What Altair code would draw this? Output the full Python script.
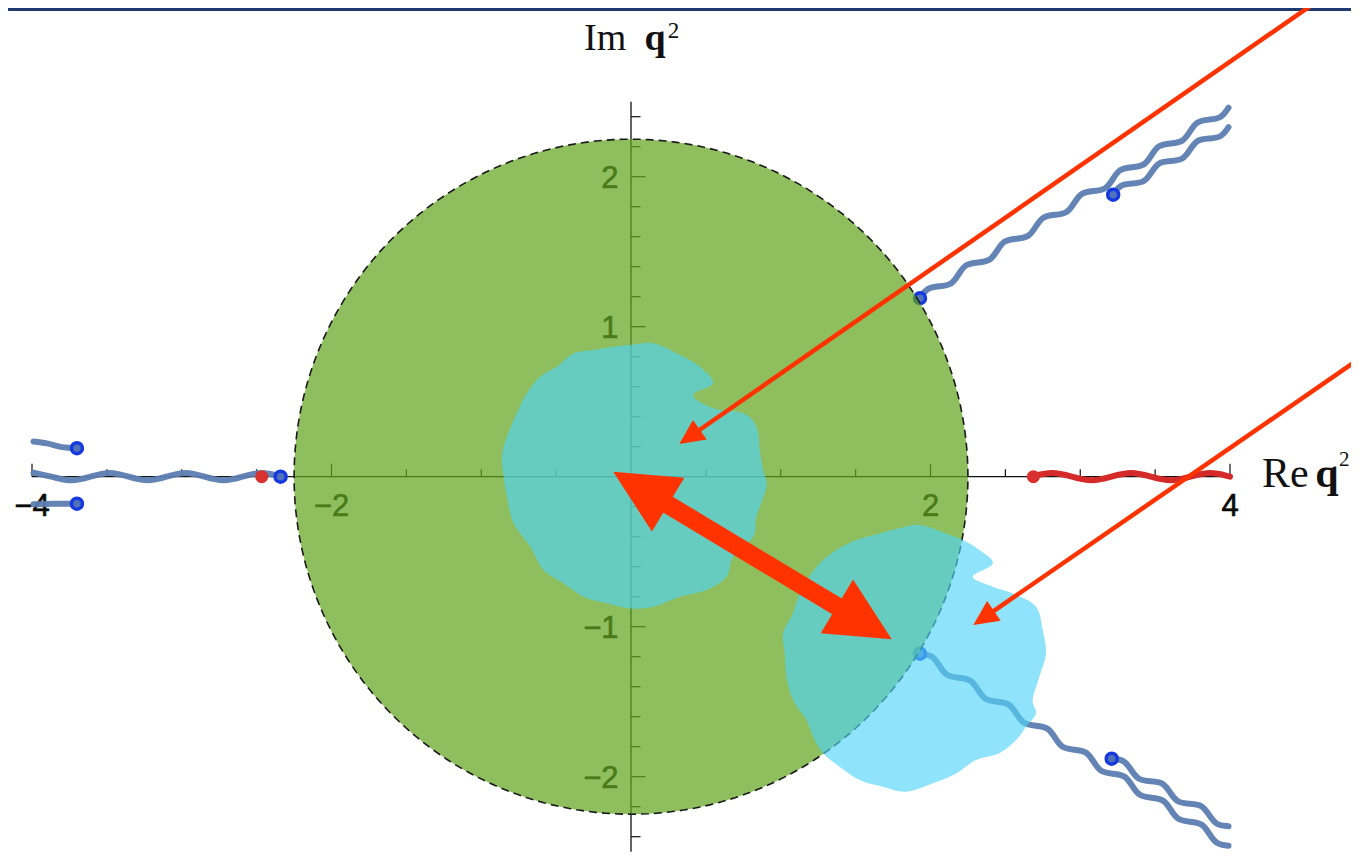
import math
import numpy as np
import pandas as pd
import altair as alt

# ---------------- geometry of the page (pixels per data unit) ----------------
PX = 149.75
PY = 150.0
XDOM = [-4.1603, 4.8080]
YDOM = [-2.5087, 3.1047]

# ---------------- axes ----------------
X_TICKS = [-4, -3.5, -3, -2.5, -2, -1.5, -1, -0.5, 0.5, 1, 1.5, 2, 2.5, 3, 3.5, 4]
X_MAJOR = [-4, -2, 2, 4]
X_LABELS = ["\u22124", "\u22122", "2", "4"]
Y_TICKS = [-2.4, -2.2, -2.0, -1.8, -1.6, -1.4, -1.2, -1.0, -0.8, -0.6, -0.4, -0.2,
           0.2, 0.4, 0.6, 0.8, 1.0, 1.2, 1.4, 1.6, 1.8, 2.0, 2.2, 2.4]
Y_MAJOR = [-2, -1, 1, 2]
Y_LABELS = ["\u22122", "\u22121", "1", "2"]
X_RANGE = [-4, 4]
Y_RANGE = [-2.5, 2.5]

# ---------------- disc ----------------
DISC_R = 2.25

# ---------------- blobs (outline) ----------------
BLOB1_X = [-0.007, 0.149, 0.327, 0.46, 0.549, 0.415, 0.549, 0.749, 0.838, 0.86, 0.882, 0.905,
           0.838, 0.816, 0.682, 0.638, 0.505, 0.327, 0.149, -0.007, -0.162, -0.318, -0.451,
           -0.584, -0.673, -0.784, -0.829, -0.851, -0.862, -0.829, -0.762, -0.696, -0.607,
           -0.496, -0.384, -0.251, -0.118]
BLOB1_Y = [0.878, 0.889, 0.811, 0.733, 0.623, 0.545, 0.456, 0.423, 0.333, 0.178, 0.045, -0.067,
           -0.267, -0.4, -0.533, -0.667, -0.755, -0.8, -0.867, -0.878, -0.844, -0.8, -0.711,
           -0.622, -0.467, -0.311, -0.133, 0.0, 0.133, 0.267, 0.423, 0.556, 0.667, 0.733,
           0.822, 0.845, 0.867]
BLOB2_X = [1.927, 2.104, 2.216, 2.327, 2.416, 2.282, 2.416, 2.549, 2.704, 2.749, 2.771, 2.727,
           2.682, 2.704, 2.638, 2.571, 2.46, 2.304, 2.171, 2.016, 1.838, 1.682, 1.527, 1.393,
           1.282, 1.216, 1.171, 1.082, 1.038, 1.027, 1.016, 1.082, 1.127, 1.238, 1.371, 1.504,
           1.66, 1.793]
BLOB2_Y = [-0.322, -0.378, -0.422, -0.489, -0.578, -0.667, -0.733, -0.778, -0.867, -1.022,
           -1.178, -1.333, -1.489, -1.578, -1.667, -1.756, -1.844, -1.889, -1.978, -2.044,
           -2.1, -2.067, -2.022, -1.933, -1.844, -1.733, -1.622, -1.489, -1.333, -1.178,
           -1.044, -0.911, -0.778, -0.6, -0.489, -0.422, -0.378, -0.344]

# ---------------- wavy cuts: endpoints and wiggle offsets (px) ----------------
WAVE = [0, 5.5, 0, -5.5]
CUT_LEFT = ((-2.34, 0.0), (-3.99, 0.0), [0, -5.5, 0, 5.5, 0, -5.5, 0, 5.5, 0, -5.5, 0, 5.5, 0, -4])
CUT_POS = ((2.68, 0.0), (4.0, 0.0), [0, 5.5, 0, -5.5, 0, 5.5, 0, -5.5, 0, 5.5, 0])
CUT_UR_MAIN = ((1.93, 1.19), (3.99, 2.46), WAVE * 8 + [0])
CUT_UR_SIDE = ((3.22, 1.88), (3.99, 2.33), WAVE * 3 + [0])
CUT_LR_MAIN = ((1.93, -1.18), (3.99, -2.46), WAVE * 8 + [0])
CUT_LR_SIDE = ((3.21, -1.88), (3.99, -2.33), WAVE * 3 + [0])
STUB_UP_X = [-3.99, -3.90, -3.80, -3.70]
STUB_UP_Y = [0.235, 0.222, 0.197, 0.19]
STUB_DN_X = [-3.99, -3.85, -3.70]
STUB_DN_Y = [-0.183, -0.181, -0.18]

BLUE_DOT_X = [-2.34, -3.70, -3.70, 1.93, 3.22, 1.93, 3.21]
BLUE_DOT_Y = [0.0, 0.19, -0.18, 1.19, 1.88, -1.18, -1.88]
RED_DOT_X = [-2.466, 2.687]
RED_DOT_Y = [0.0, 0.0]

# ---------------- arrows ----------------
THIN_TAIL_X = [4.594, 4.861]
THIN_TAIL_Y = [3.178, 0.784]
THIN_TIP_X = [0.3225, 2.286]
THIN_TIP_Y = [0.218, -0.989]
THICK_TIP_X = [-0.1185, 1.741]
THICK_TIP_Y = [0.0333, -1.084]

# ---------------- colours ----------------
NAVY = "#1F3A6E"
GREEN = "#63A51F"
CYAN = "#51D3F7"
CUT_BLUE = "#5B7DB0"
CUT_RED_COLOR = "#D42A2A"
ARROW = "#FF3300"

xs = alt.Scale(domain=XDOM, nice=False, zero=False)
ys = alt.Scale(domain=YDOM, nice=False, zero=False)
X = alt.X("x:Q", scale=xs, axis=None)
Y = alt.Y("y:Q", scale=ys, axis=None)


def poly_df(xv, yv):
    return pd.DataFrame({"x": list(xv), "y": list(yv), "i": list(range(len(xv)))})


def wavy(cut):
    (x0, y0), (x1, y1), offs = cut
    dxp, dyp = (x1 - x0) * PX, (y1 - y0) * PY
    L = math.hypot(dxp, dyp)
    nx, ny = -dyp / L, dxp / L
    n = len(offs)
    rows = []
    for k, o in enumerate(offs):
        t = k / (n - 1)
        rows.append({"x": x0 + t * (x1 - x0) + o * nx / PX,
                     "y": y0 + t * (y1 - y0) + o * ny / PY, "i": k})
    return pd.DataFrame(rows)


def line_layer(df, **kw):
    return alt.Chart(df).mark_line(**kw).encode(x=X, y=Y, order=alt.Order("i:Q"))


layers = []

# axes lines
axes_df = pd.DataFrame({"x": [X_RANGE[0], 0], "x2": [X_RANGE[1], 0],
                        "y": [0, Y_RANGE[0]], "y2": [0, Y_RANGE[1]]})
layers.append(alt.Chart(axes_df).mark_rule(color="#111111", strokeWidth=1.3).encode(
    x=X, y=Y, x2="x2:Q", y2="y2:Q"))

tick_rows = []
for v in X_TICKS:
    L = 13.0 if v in X_MAJOR else 7.5
    tick_rows.append({"x": v, "x2": v, "y": 0.0, "y2": L / PY})
for v in Y_TICKS:
    L = 14.5 if v in Y_MAJOR else 9.5
    tick_rows.append({"x": 0.0, "x2": L / PX, "y": v, "y2": v})
layers.append(alt.Chart(pd.DataFrame(tick_rows)).mark_rule(color="#111111", strokeWidth=1.2).encode(
    x=X, y=Y, x2="x2:Q", y2="y2:Q"))

xl_df = pd.DataFrame({"x": X_MAJOR, "y": [-0.265] * len(X_MAJOR), "t": X_LABELS})
layers.append(alt.Chart(xl_df).mark_text(align="center", baseline="alphabetic",
                                          font="Liberation Sans", fontSize=31, color="#0a0a0a",
                                          stroke="#0a0a0a", strokeWidth=0.6).encode(
    x=X, y=Y, text="t:N"))
yl_df = pd.DataFrame({"x": [-0.083] * len(Y_MAJOR), "y": [v - 0.078 for v in Y_MAJOR], "t": Y_LABELS})
layers.append(alt.Chart(yl_df).mark_text(align="right", baseline="alphabetic",
                                          font="Liberation Sans", fontSize=31, color="#0a0a0a",
                                          stroke="#0a0a0a", strokeWidth=0.6).encode(
    x=X, y=Y, text="t:N"))

# wavy cuts
for cut in [CUT_LEFT, CUT_UR_MAIN, CUT_UR_SIDE, CUT_LR_MAIN, CUT_LR_SIDE]:
    layers.append(line_layer(wavy(cut), color=CUT_BLUE, strokeWidth=6, interpolate="basis",
                             strokeCap="round", opacity=0.95))
for sx, sy in [(STUB_UP_X, STUB_UP_Y), (STUB_DN_X, STUB_DN_Y)]:
    layers.append(line_layer(poly_df(sx, sy), color=CUT_BLUE, strokeWidth=6, interpolate="monotone",
                             strokeCap="round", opacity=0.95))
layers.append(line_layer(wavy(CUT_POS), color=CUT_RED_COLOR, strokeWidth=6, interpolate="basis",
                         strokeCap="round"))

layers.append(alt.Chart(poly_df(RED_DOT_X, RED_DOT_Y)).mark_point(
    shape="circle", filled=True, size=170, color="#D93030", opacity=1).encode(x=X, y=Y))
layers.append(alt.Chart(poly_df(BLUE_DOT_X, BLUE_DOT_Y)).mark_point(
    shape="circle", filled=True, size=120, fill="#4F72B8", stroke="#1538E0", strokeWidth=3.5,
    opacity=1).encode(x=X, y=Y))

# green disc
theta = np.linspace(0, 2 * np.pi, 241)
disc_df = poly_df(DISC_R * np.cos(theta), DISC_R * np.sin(theta))
layers.append(line_layer(disc_df, filled=True, fill=GREEN, fillOpacity=0.72, strokeWidth=0))
layers.append(line_layer(disc_df, color="#1a1a1a", strokeWidth=1.6, strokeDash=[8, 5]))

# blobs
for bx, by in [(BLOB1_X, BLOB1_Y), (BLOB2_X, BLOB2_Y)]:
    layers.append(line_layer(poly_df(bx, by), filled=True, fill=CYAN, fillOpacity=0.643,
                             strokeWidth=0, interpolate="cardinal-closed"))


# arrows
def unit(x0, y0, x1, y1):
    dx, dy = (x1 - x0) * PX, (y1 - y0) * PY
    L = math.hypot(dx, dy)
    return dx / L, dy / L


def head_rows(tipx, tipy, ux, uy, L):
    ang = math.degrees(math.atan2(ux, uy)) % 360
    return {"x": tipx - (L / 2) * ux / PX, "y": tipy - (L / 2) * uy / PY, "a": ang}


thin_shafts, thin_heads = [], []
THIN_L = 25.0
for k in range(len(THIN_TIP_X)):
    ux, uy = unit(THIN_TAIL_X[k], THIN_TAIL_Y[k], THIN_TIP_X[k], THIN_TIP_Y[k])
    thin_shafts.append({"x": THIN_TAIL_X[k], "y": THIN_TAIL_Y[k],
                        "x2": THIN_TIP_X[k] - (THIN_L - 4) * ux / PX,
                        "y2": THIN_TIP_Y[k] - (THIN_L - 4) * uy / PY})
    thin_heads.append(head_rows(THIN_TIP_X[k], THIN_TIP_Y[k], ux, uy, THIN_L))

THICK_L = 64.0
ax, ay, bx_, by_ = THICK_TIP_X[0], THICK_TIP_Y[0], THICK_TIP_X[1], THICK_TIP_Y[1]
ux, uy = unit(ax, ay, bx_, by_)
thick_shaft = [{"x": ax + (THICK_L - 6) * ux / PX, "y": ay + (THICK_L - 6) * uy / PY,
                "x2": bx_ - (THICK_L - 6) * ux / PX, "y2": by_ - (THICK_L - 6) * uy / PY}]
thick_heads = [head_rows(bx_, by_, ux, uy, THICK_L), head_rows(ax, ay, -ux, -uy, THICK_L)]

layers.append(alt.Chart(pd.DataFrame(thin_shafts)).mark_rule(color=ARROW, strokeWidth=4.5).encode(
    x=X, y=Y, x2="x2:Q", y2="y2:Q"))
layers.append(alt.Chart(pd.DataFrame(thick_shaft)).mark_rule(color=ARROW, strokeWidth=18.5).encode(
    x=X, y=Y, x2="x2:Q", y2="y2:Q"))
layers.append(alt.Chart(pd.DataFrame(thin_heads)).mark_point(
    shape="M0,-1L0.96,1L-0.96,1Z", filled=True, size=THIN_L ** 2, color=ARROW, opacity=1).encode(
    x=X, y=Y, angle=alt.Angle("a:Q", scale=None)))
layers.append(alt.Chart(pd.DataFrame(thick_heads)).mark_point(
    shape="M0,-1L0.98,1L-0.98,1Z", filled=True, size=THICK_L ** 2, color=ARROW, opacity=1).encode(
    x=X, y=Y, angle=alt.Angle("a:Q", scale=None)))


# axis titles
def txt(x, y, t, size, weight="normal", align="left"):
    return alt.Chart(pd.DataFrame({"x": [x], "y": [y], "t": [t]})).mark_text(
        align=align, baseline="alphabetic", font="Liberation Serif", fontSize=size,
        fontWeight=weight, color="#111111").encode(x=X, y=Y, text="t:N")


layers += [
    txt(-0.314, 2.845, "Im", 38),
    txt(0.090, 2.845, "q", 38, "bold"),
    txt(0.245, 2.925, "2", 23),
    txt(4.214, -0.069, "Re", 42),
    txt(4.570, -0.069, "q", 42, "bold"),
    txt(4.728, 0.071, "2", 21),
]

chart = alt.layer(*layers).properties(
    width=1343, height=842,
    autosize=alt.AutoSizeParams(type="none"),
    padding={"left": 0, "top": 3, "right": 0, "bottom": 0},
    background=NAVY,
).configure_view(stroke=None, fill="white")

chart.save("out.html", embed_options={"renderer": "svg", "actions": False})
